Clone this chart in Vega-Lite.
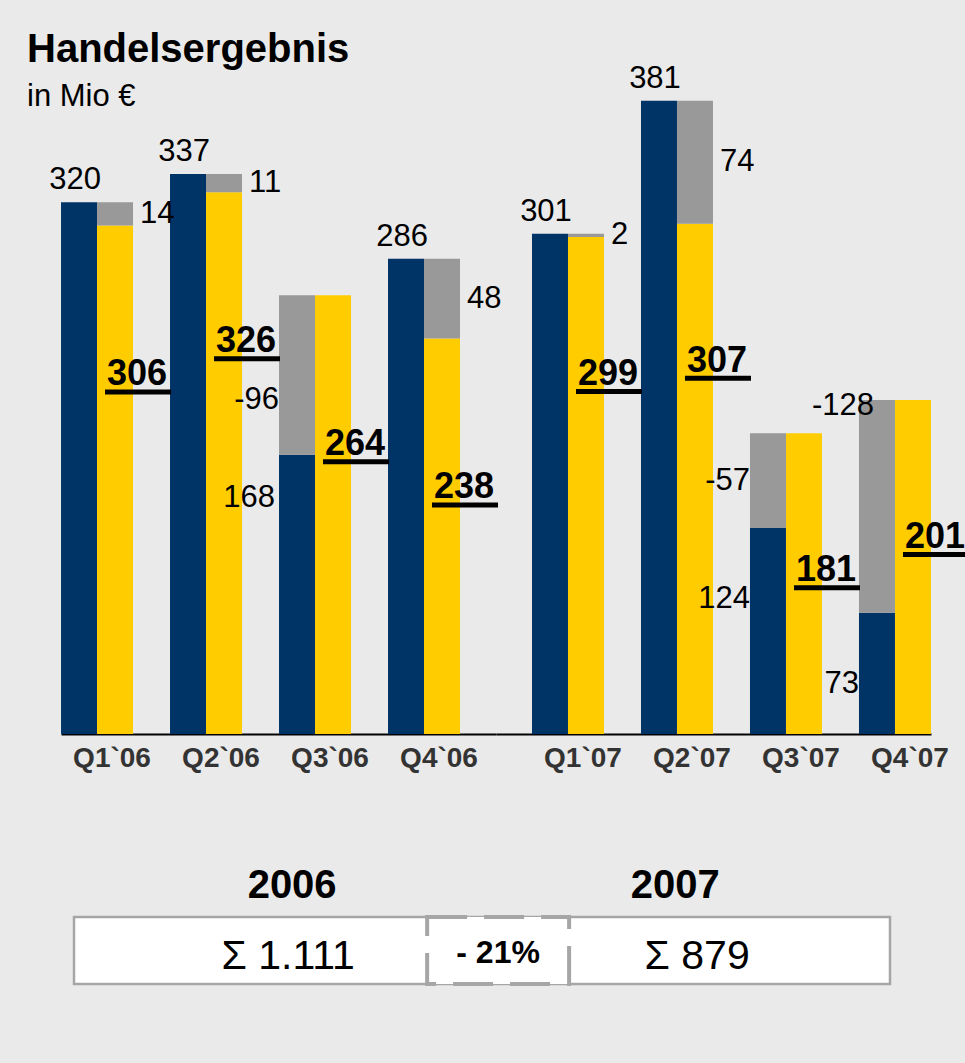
{
  "$schema": "https://vega.github.io/schema/vega-lite/v6.json",
  "background": "#EAEAEA",
  "padding": {"left": 27, "top": 30, "right": 1, "bottom": 75},
  "bounds": "flush",
  "spacing": 881,
  "config": {"view": {"stroke": null}, "font": "Liberation Sans"},
  "datasets": {
    "q": [
      {"q": "Q1`06", "year": "2006", "gross": 320, "net": 306, "diff": 14},
      {"q": "Q2`06", "year": "2006", "gross": 337, "net": 326, "diff": 11},
      {"q": "Q3`06", "year": "2006", "gross": 168, "net": 264, "diff": -96},
      {"q": "Q4`06", "year": "2006", "gross": 286, "net": 238, "diff": 48},
      {"q": "Q1`07", "year": "2007", "gross": 301, "net": 299, "diff": 2},
      {"q": "Q2`07", "year": "2007", "gross": 381, "net": 307, "diff": 74},
      {"q": "Q3`07", "year": "2007", "gross": 124, "net": 181, "diff": -57},
      {"q": "Q4`07", "year": "2007", "gross": 73, "net": 201, "diff": -128}
    ],
    "s": [
      {"key": "2006", "label": "Σ 1.111"},
      {"key": "change", "label": "- 21%"},
      {"key": "2007", "label": "Σ 879"}
    ]
  },
  "vconcat": [
    {
      "hconcat": [
        {
          "width": 435,
          "height": 698,
          "title": {
            "text": "Handelsergebnis",
            "subtitle": "in Mio €",
            "anchor": "start",
            "frame": "group",
            "orient": "top",
            "offset": -76,
            "dx": -34,
            "font": "Liberation Sans",
            "fontSize": 40,
            "fontWeight": "bold",
            "color": "#000000",
            "subtitleFont": "Liberation Sans",
            "subtitleFontSize": 31,
            "subtitleColor": "#000000",
            "subtitlePadding": 12
          },
          "data": {"name": "q"},
          "transform": [{"filter": "datum.year == '2006'"}],
          "encoding": {
            "x": {
              "field": "q", "type": "nominal",
              "scale": {"paddingInner": 0.339, "paddingOuter": 0.165, "align": 0},
              "axis": {"title": null, "labelAngle": 0, "ticks": false, "tickSize": 0, "domainColor": "#000000", "domainWidth": 2, "labelFont": "Liberation Sans", "labelFontSize": 28, "labelFontWeight": "bold", "labelColor": "#333333", "labelPadding": 10, "labelOffset": 15, "labelBaseline": "top"}
            }
          },
          "layer": [
            {"mark": {"type": "bar", "width": 36, "xOffset": -18, "color": "#003366"},
             "encoding": {"y": {"field": "gross", "type": "quantitative", "scale": {"domain": [0, 420], "nice": false, "zero": true}, "axis": null}}},
            {"mark": {"type": "bar", "width": 36, "xOffset": 18, "color": "#FFCC00"},
             "encoding": {"y": {"field": "net", "type": "quantitative"}}},
            {"transform": [{"filter": "datum.diff > 0"}],
             "mark": {"type": "bar", "width": 36, "xOffset": 18, "color": "#999999"},
             "encoding": {"y": {"field": "net", "type": "quantitative"}, "y2": {"field": "gross"}}},
            {"transform": [{"filter": "datum.diff < 0"}],
             "mark": {"type": "bar", "width": 36, "xOffset": -18, "color": "#999999"},
             "encoding": {"y": {"field": "gross", "type": "quantitative"}, "y2": {"field": "net"}}},
            {"transform": [{"filter": "datum.diff > 0"}],
             "mark": {"type": "text", "fontSize": 31, "dx": -22, "dy": -13, "baseline": "alphabetic", "align": "center", "color": "#000000"},
             "encoding": {"y": {"field": "gross", "type": "quantitative"}, "text": {"field": "gross", "type": "nominal"}}},
            {"transform": [{"filter": "datum.diff < 0"}],
             "mark": {"type": "text", "fontSize": 31, "dx": -40, "dy": 52, "baseline": "alphabetic", "align": "right", "color": "#000000"},
             "encoding": {"y": {"field": "gross", "type": "quantitative"}, "text": {"field": "gross", "type": "nominal"}}},
            {"transform": [{"filter": "datum.diff > 0"}, {"fold": ["gross", "net"], "as": ["k", "v"]}, {"aggregate": [{"op": "mean", "field": "v", "as": "mid"}], "groupby": ["q", "diff"]}],
             "mark": {"type": "text", "fontSize": 31, "dx": 43, "baseline": "middle", "align": "left", "color": "#000000"},
             "encoding": {"y": {"field": "mid", "type": "quantitative"}, "text": {"field": "diff", "type": "nominal"}}},
            {"transform": [{"filter": "datum.diff < 0 && datum.diff > -100"}, {"fold": ["gross", "net"], "as": ["k", "v"]}, {"aggregate": [{"op": "mean", "field": "v", "as": "mid"}], "groupby": ["q", "diff"]}],
             "mark": {"type": "text", "fontSize": 31, "dx": -36, "dy": 25, "baseline": "middle", "align": "right", "color": "#000000"},
             "encoding": {"y": {"field": "mid", "type": "quantitative"}, "text": {"field": "diff", "type": "nominal"}}},
            {"transform": [{"filter": "datum.diff <= -100"}],
             "mark": {"type": "text", "fontSize": 31, "dx": -21, "dy": 6, "baseline": "middle", "align": "right", "color": "#000000"},
             "encoding": {"y": {"field": "net", "type": "quantitative"}, "text": {"field": "diff", "type": "nominal"}}},
            {"mark": {"type": "text", "fontSize": 36, "fontWeight": "bold", "dx": 40, "dy": 160, "baseline": "alphabetic", "align": "center", "color": "#000000"},
             "encoding": {"y": {"field": "net", "type": "quantitative"}, "text": {"field": "net", "type": "nominal"}}},
            {"mark": {"type": "tick", "orient": "horizontal", "size": 66, "thickness": 5, "xOffset": 41, "yOffset": 166.5, "color": "#000000", "opacity": 1},
             "encoding": {"y": {"field": "net", "type": "quantitative"}}}
          ]
        },
        {
          "width": 435,
          "height": 698,
          "data": {"name": "q"},
          "transform": [{"filter": "datum.year == '2007'"}],
          "encoding": {
            "x": {
              "field": "q", "type": "nominal",
              "scale": {"paddingInner": 0.339, "paddingOuter": 0.165, "align": 1},
              "axis": {"title": null, "labelAngle": 0, "ticks": false, "tickSize": 0, "domainColor": "#000000", "domainWidth": 2, "labelFont": "Liberation Sans", "labelFontSize": 28, "labelFontWeight": "bold", "labelColor": "#333333", "labelPadding": 10, "labelOffset": 15, "labelBaseline": "top"}
            }
          },
          "layer": [
            {"mark": {"type": "bar", "width": 36, "xOffset": -18, "color": "#003366"},
             "encoding": {"y": {"field": "gross", "type": "quantitative", "scale": {"domain": [0, 420], "nice": false, "zero": true}, "axis": null}}},
            {"mark": {"type": "bar", "width": 36, "xOffset": 18, "color": "#FFCC00"},
             "encoding": {"y": {"field": "net", "type": "quantitative"}}},
            {"transform": [{"filter": "datum.diff > 0"}],
             "mark": {"type": "bar", "width": 36, "xOffset": 18, "color": "#999999"},
             "encoding": {"y": {"field": "net", "type": "quantitative"}, "y2": {"field": "gross"}}},
            {"transform": [{"filter": "datum.diff < 0"}],
             "mark": {"type": "bar", "width": 36, "xOffset": -18, "color": "#999999"},
             "encoding": {"y": {"field": "gross", "type": "quantitative"}, "y2": {"field": "net"}}},
            {"transform": [{"filter": "datum.diff > 0"}],
             "mark": {"type": "text", "fontSize": 31, "dx": -22, "dy": -13, "baseline": "alphabetic", "align": "center", "color": "#000000"},
             "encoding": {"y": {"field": "gross", "type": "quantitative"}, "text": {"field": "gross", "type": "nominal"}}},
            {"transform": [{"filter": "datum.diff < 0"}],
             "mark": {"type": "text", "fontSize": 31, "dx": -36, "dy": 80, "baseline": "alphabetic", "align": "right", "color": "#000000"},
             "encoding": {"y": {"field": "gross", "type": "quantitative"}, "text": {"field": "gross", "type": "nominal"}}},
            {"transform": [{"filter": "datum.diff > 0"}, {"fold": ["gross", "net"], "as": ["k", "v"]}, {"aggregate": [{"op": "mean", "field": "v", "as": "mid"}], "groupby": ["q", "diff"]}],
             "mark": {"type": "text", "fontSize": 31, "dx": 43, "baseline": "middle", "align": "left", "color": "#000000"},
             "encoding": {"y": {"field": "mid", "type": "quantitative"}, "text": {"field": "diff", "type": "nominal"}}},
            {"transform": [{"filter": "datum.diff < 0 && datum.diff > -100"}, {"fold": ["gross", "net"], "as": ["k", "v"]}, {"aggregate": [{"op": "mean", "field": "v", "as": "mid"}], "groupby": ["q", "diff"]}],
             "mark": {"type": "text", "fontSize": 31, "dx": -36, "baseline": "middle", "align": "right", "color": "#000000"},
             "encoding": {"y": {"field": "mid", "type": "quantitative"}, "text": {"field": "diff", "type": "nominal"}}},
            {"transform": [{"filter": "datum.diff <= -100"}],
             "mark": {"type": "text", "fontSize": 31, "dx": -21, "dy": 6, "baseline": "middle", "align": "right", "color": "#000000"},
             "encoding": {"y": {"field": "net", "type": "quantitative"}, "text": {"field": "diff", "type": "nominal"}}},
            {"mark": {"type": "text", "fontSize": 36, "fontWeight": "bold", "dx": 40, "dy": 148, "baseline": "alphabetic", "align": "center", "color": "#000000"},
             "encoding": {"y": {"field": "net", "type": "quantitative"}, "text": {"field": "net", "type": "nominal"}}},
            {"mark": {"type": "tick", "orient": "horizontal", "size": 66, "thickness": 5, "xOffset": 41, "yOffset": 154.5, "color": "#000000", "opacity": 1},
             "encoding": {"y": {"field": "net", "type": "quantitative"}}}
          ]
        }
      ],
      "spacing": 0,
      "bounds": "flush",
      "resolve": {"scale": {"x": "independent", "y": "independent"}}
    },
    {
      "hconcat": [
        {"width": 1, "height": 67, "data": {"values": [{"a": 1}]}, "mark": {"type": "point", "opacity": 0}},
        {
          "width": 816,
          "height": 67,
          "view": {"fill": "#FFFFFF", "stroke": "#A6A6A6", "strokeWidth": 2.5},
          "data": {"name": "s"},
          "encoding": {
            "x": {
              "field": "key", "type": "nominal",
              "scale": {"domain": ["2006", "change", "2007"], "paddingInner": 0.283, "paddingOuter": 0.702, "align": 0.558},
              "axis": null
            }
          },
          "layer": [
            {"transform": [{"filter": "datum.key == 'change'"}],
             "mark": {"type": "bar", "fill": "#FFFFFF", "stroke": "#A6A6A6", "strokeWidth": 4, "strokeDash": [40, 17]}},
            {"transform": [{"filter": "datum.key == '2006'"}],
             "mark": {"type": "text", "fontSize": 41, "baseline": "alphabetic", "dy": 18, "dx": -12, "color": "#000000"},
             "encoding": {"text": {"field": "label", "type": "nominal"}}},
            {"transform": [{"filter": "datum.key == '2007'"}],
             "mark": {"type": "text", "fontSize": 41, "baseline": "alphabetic", "dy": 18, "dx": 1, "color": "#000000"},
             "encoding": {"text": {"field": "label", "type": "nominal"}}},
            {"transform": [{"filter": "datum.key == 'change'"}],
             "mark": {"type": "text", "fontSize": 32, "fontWeight": "bold", "baseline": "alphabetic", "dy": 12.5, "color": "#000000"},
             "encoding": {"text": {"field": "label", "type": "nominal"}}},
            {"transform": [{"filter": "datum.key == '2006'"}],
             "mark": {"type": "text", "fontSize": 40, "fontWeight": "bold", "baseline": "alphabetic", "dy": -52.5, "dx": -8, "color": "#000000"},
             "encoding": {"text": {"field": "key", "type": "nominal"}}},
            {"transform": [{"filter": "datum.key == '2007'"}],
             "mark": {"type": "text", "fontSize": 40, "fontWeight": "bold", "baseline": "alphabetic", "dy": -52.5, "dx": -21, "color": "#000000"},
             "encoding": {"text": {"field": "key", "type": "nominal"}}}
          ]
        }
      ],
      "spacing": 12,
      "bounds": "flush"
    }
  ]
}
